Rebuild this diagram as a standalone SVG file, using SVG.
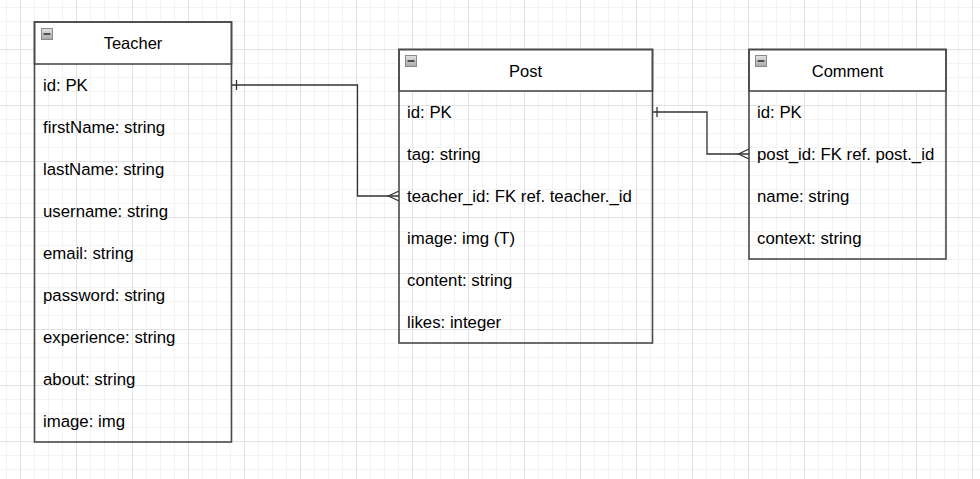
<svg xmlns="http://www.w3.org/2000/svg" width="980" height="479" viewBox="0 0 980 479">
<style>
.box{fill:none;stroke:#4a4a4a;stroke-width:1.6}
.hdr{fill:#ffffff;stroke:#4a4a4a;stroke-width:1.6}
.t{font-family:"Liberation Sans",Helvetica,Arial,sans-serif;font-size:16.8px;fill:#000}
.ti{font-family:"Liberation Sans",Helvetica,Arial,sans-serif;font-size:16.5px;fill:#000;text-anchor:middle}
.ic{fill:url(#icg);stroke:#8a8a8a;stroke-width:1}
.icm{stroke:#333;stroke-width:1.6}
.con{fill:none;stroke:#333;stroke-width:1.3}
</style>
<defs>
<linearGradient id="icg" x1="0" y1="0" x2="0" y2="1">
<stop offset="0" stop-color="#e4e4e4"/>
<stop offset="1" stop-color="#a8a8a8"/>
</linearGradient>
<pattern id="grid" patternUnits="userSpaceOnUse" x="20" y="49" width="56" height="56">
<rect x="14" y="0" width="1" height="56" fill="#f3f3f3"/>
<rect x="28" y="0" width="1" height="56" fill="#f3f3f3"/>
<rect x="42" y="0" width="1" height="56" fill="#f3f3f3"/>
<rect x="0" y="14" width="56" height="1" fill="#f3f3f3"/>
<rect x="0" y="28" width="56" height="1" fill="#f3f3f3"/>
<rect x="0" y="42" width="56" height="1" fill="#f3f3f3"/>
<rect x="0" y="0" width="1" height="56" fill="#e2e2e2"/>
<rect x="0" y="0" width="56" height="1" fill="#e2e2e2"/>
</pattern>
</defs>
<rect width="980" height="479" fill="#ffffff"/>
<rect width="980" height="479" fill="url(#grid)"/>

<g id="connectors">
<path class="con" d="M231.5 85 H357.5 V196 H399"/>
<path class="con" d="M236.5 80 V90"/>
<path class="con" d="M399 191 L388.5 196 L399 201"/>
<path class="con" d="M652.5 112 H707 V154 H749"/>
<path class="con" d="M657 107 V117"/>
<path class="con" d="M749 149 L738.5 154 L749 159"/>
</g>

<g id="teacher">
<rect class="hdr" x="34.5" y="22" width="197" height="42"/>
<rect class="box" x="34.5" y="22" width="197" height="420"/>
<rect class="ic" x="41.5" y="28.5" width="11" height="11"/>
<line class="icm" x1="43.5" y1="34" x2="50.5" y2="34"/>
<text class="ti" x="133" y="49">Teacher</text>
<text class="t" x="43" y="91">id: PK</text>
<text class="t" x="43" y="133">firstName: string</text>
<text class="t" x="43" y="175">lastName: string</text>
<text class="t" x="43" y="217">username: string</text>
<text class="t" x="43" y="259">email: string</text>
<text class="t" x="43" y="301">password: string</text>
<text class="t" x="43" y="343">experience: string</text>
<text class="t" x="43" y="385">about: string</text>
<text class="t" x="43" y="427">image: img</text>
</g>

<g id="post">
<rect class="hdr" x="399" y="49.5" width="253.5" height="41.5"/>
<rect class="box" x="399" y="49.5" width="253.5" height="293.5"/>
<rect class="ic" x="405.5" y="55.5" width="11" height="11"/>
<line class="icm" x1="407.5" y1="61" x2="414.5" y2="61"/>
<text class="ti" x="525.5" y="76.5">Post</text>
<text class="t" x="407" y="118">id: PK</text>
<text class="t" x="407" y="160">tag: string</text>
<text class="t" x="407" y="202">teacher_id: FK ref. teacher._id</text>
<text class="t" x="407" y="244">image: img (T)</text>
<text class="t" x="407" y="286">content: string</text>
<text class="t" x="407" y="328">likes: integer</text>
</g>

<g id="comment">
<rect class="hdr" x="749" y="49.5" width="197" height="41.5"/>
<rect class="box" x="749" y="49.5" width="197" height="209.5"/>
<rect class="ic" x="755.5" y="55.5" width="11" height="11"/>
<line class="icm" x1="757.5" y1="61" x2="764.5" y2="61"/>
<text class="ti" x="847.5" y="76.5">Comment</text>
<text class="t" x="757" y="118">id: PK</text>
<text class="t" x="757" y="160">post_id: FK ref. post._id</text>
<text class="t" x="757" y="202">name: string</text>
<text class="t" x="757" y="244">context: string</text>
</g>
</svg>
